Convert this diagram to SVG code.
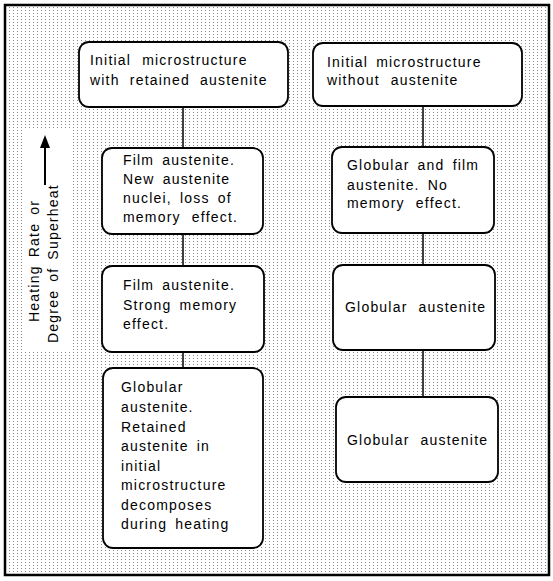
<svg xmlns="http://www.w3.org/2000/svg" width="553" height="581" viewBox="0 0 553 581">
<style>
.box{fill:#fff;stroke:#000;stroke-width:1.8}
.t{font-family:"Liberation Sans",Arial,sans-serif;font-size:14px;fill:#000;letter-spacing:1.2px;word-spacing:3px}
.w{word-spacing:6px}
.conn{stroke:#000;stroke-width:1.5;fill:none}
</style>
<defs>
<pattern id="dots" width="4" height="3" patternUnits="userSpaceOnUse">
<rect x="1" y="1" width="1" height="1" fill="#8a8a8a"/>
</pattern>
</defs>
<rect width="553" height="581" fill="#fff"/>
<rect x="5" y="5" width="544" height="570" fill="url(#dots)" stroke="#000" stroke-width="2.5"/>

<g id="axis">
<rect x="22" y="128" width="49" height="222" fill="#fff"/>
<path d="M45,185 L45,146" stroke="#000" stroke-width="2"/>
<path d="M40,148 L45,135 L50,148 Z" fill="#000"/>
<text class="t" transform="translate(39,322) rotate(-90)">Heating Rate or</text>
<text class="t" transform="translate(58,343) rotate(-90)">Degree of Superheat</text>
</g>

<g id="connectors">
<line class="conn" x1="183" y1="107" x2="183" y2="148"/>
<line class="conn" x1="183" y1="234" x2="183" y2="266"/>
<line class="conn" x1="183" y1="352" x2="183" y2="368"/>
<line class="conn" x1="423" y1="106" x2="423" y2="147"/>
<line class="conn" x1="423" y1="233" x2="423" y2="265"/>
<line class="conn" x1="423" y1="350" x2="423" y2="397"/>
</g>

<g id="n1">
<rect class="box" x="79" y="42" width="209" height="65" rx="10"/>
<text class="t w" x="90" y="65">Initial microstructure</text>
<text class="t" x="90" y="85" style="word-spacing:5px">with retained austenite</text>
</g>
<g id="n2">
<rect class="box" x="102" y="148" width="161" height="86" rx="10"/>
<text class="t" x="123" y="165">Film austenite.</text>
<text class="t" x="123" y="184">New austenite</text>
<text class="t" x="123" y="203">nuclei, loss of</text>
<text class="t" x="123" y="222" style="word-spacing:6px">memory effect.</text>
</g>
<g id="n3">
<rect class="box" x="102" y="266" width="162" height="86" rx="10"/>
<text class="t" x="123" y="290">Film austenite.</text>
<text class="t" x="123" y="310">Strong memory</text>
<text class="t" x="123" y="329">effect.</text>
</g>
<g id="n4">
<rect class="box" x="103" y="368" width="160" height="180" rx="10"/>
<text class="t" x="121" y="392">Globular</text>
<text class="t" x="121" y="412">austenite.</text>
<text class="t" x="121" y="432">Retained</text>
<text class="t" x="121" y="451">austenite in</text>
<text class="t" x="121" y="471">initial</text>
<text class="t" x="121" y="490">microstructure</text>
<text class="t" x="121" y="510">decomposes</text>
<text class="t" x="121" y="529">during heating</text>
</g>
<g id="n5">
<rect class="box" x="313" y="43" width="209" height="63" rx="10"/>
<text class="t" x="327" y="67">Initial microstructure</text>
<text class="t" x="327" y="85" style="word-spacing:6px">without austenite</text>
</g>
<g id="n6">
<rect class="box" x="332" y="147" width="162" height="86" rx="10"/>
<text class="t" x="347" y="170">Globular and film</text>
<text class="t" x="347" y="190">austenite. No</text>
<text class="t" x="347" y="208" style="word-spacing:6px">memory effect.</text>
</g>
<g id="n7">
<rect class="box" x="333" y="265" width="162" height="85" rx="10"/>
<text class="t" x="345" y="312" style="word-spacing:6px">Globular austenite</text>
</g>
<g id="n8">
<rect class="box" x="336" y="397" width="162" height="85" rx="10"/>
<text class="t" x="347" y="445" style="word-spacing:6px">Globular austenite</text>
</g>
</svg>
